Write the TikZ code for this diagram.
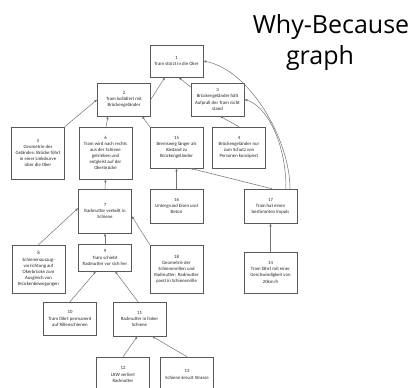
\documentclass[tikz,border=0pt]{standalone}
\usepackage{fontspec}
\setmainfont{Carlito}
\newfontfamily\titlefont{Open Sans}
\usetikzlibrary{arrows.meta}

\begin{document}
\begin{tikzpicture}[
    x=1pt,
    y=-1pt,
    >={Latex[length=3pt,width=2.4pt]},
    box/.style={draw=black!65, line width=0.5pt, fill=white, align=center,
        minimum width=53, inner sep=1pt, text=black!85,
        font=\fontsize{4.8}{6.1}\selectfont},
    link/.style={->, draw=black!55, line width=0.5pt}
]

% Page
\fill[white] (0,0) rectangle (415,388);
\useasboundingbox (0,0) rectangle (415,388);

% Title
\node[align=center, inner sep=0pt, font=\titlefont\fontsize{25}{31}\selectfont]
    (title) at (331,43) {Why-Because\\graph\hspace*{22pt}};

% Top levels
\node[box, minimum height=32] (n1) at (176.5,61) {1\\Tram stürzt in die Oker};
\node[box, minimum height=33] (n2) at (124,99.5) {2\\Tram kollidiert mit\\Brückengeländer};
\node[box, minimum height=33] (n3) at (217.5,99.5) {3\\Brückengeländer hält\\Aufprall der Tram nicht\\stand};

\node[box, minimum height=52] (n5) at (38,153) {5\\Geometrie des\\Geländes: Brücke führt\\in einer Linkskurve\\über die Oker};
\node[box, minimum height=52] (n6) at (105.5,153) {6\\Tram wird nach rechts\\aus der Schiene\\getrieben und\\entgleist auf der\\Okerbrücke};
\node[box, minimum height=41] (n15) at (176.5,147.5) {15\\Bremsweg länger als\\Abstand zu\\Brückengeländer};
\node[box, minimum height=41] (n4) at (239,147.5) {4\\Brückengeländer nur\\zum Schutz von\\Personen konzipiert};

\node[box, minimum height=44] (n7) at (105,211) {7\\Radmutter verkeilt in\\Schiene};
\node[box, minimum height=34] (n16) at (176.5,206) {16\\Untergrund Eisen und\\Beton};
\node[box, minimum height=34] (n17) at (270.5,206) {17\\Tram hat einen\\bestimmten Impuls};

% Lower levels
\node[box, minimum height=48] (n8) at (38.5,269) {8\\Schienenauszug-\\vorrichtung auf\\Okerbrücke zum\\Ausgleich von\\Brückenbewegungen};
\node[box, minimum height=27] (n9) at (105,257.5) {9\\Tram schiebt\\Radmutter vor sich her};
\node[box, minimum height=48] (n18) at (176.5,269) {18\\Geometrie der\\Schienenrillen und\\Radmutter: Radmutter\\passt in Schienenrille};
\node[box, minimum height=41] (n14) at (270.5,272.5) {14\\Tram fährt mit einer\\Geschwindigkeit von\\20km/h};

\node[box, minimum height=33] (n10) at (70,318.5) {10\\Tram fährt permanent\\auf Rillenschienen};
\node[box, minimum height=34] (n11) at (139.5,319) {11\\Radmutter in linker\\Schiene};
\node[box, minimum height=35] (n12) at (123,374.5) {12\\LKW verliert\\Radmutter};
\node[box, minimum height=35] (n13) at (187,374.5) {13\\Schiene kreuzt Strasse};

% Causal links
\draw[link] (n2.east) -- ([xshift=-11.5]n1.south);
\draw[link] ([yshift=12.5]n3.west) -- ([xshift=2]n1.south);
\draw[link] (n5.north east) -- (n2.west);
\draw[link] ([xshift=0.5]n6.north) -- ([xshift=-16]n2.south);
\draw[link] (n15.north west) -- ([xshift=18]n2.south);
\draw[link] (n4.north) -- ([xshift=2.5]n3.south);
\draw[link] ([xshift=1.5]n17.north) -- ([xshift=13.5]n15.south);
\draw[link] (n16.north) -- (n15.south);
\draw[link] ([xshift=19.5]n17.north)
    .. controls (290,140) and (250,70) .. (n1.east);
\draw[link] ([xshift=15.5]n17.north)
    .. controls (286,140) and (265,105) .. (n3.east);
\draw[link] (n14.north) -- (n17.south);

\draw[link] (n7.north) -- (n6.south);
\draw[link] (n9.north) -- (n7.south);
\draw[link] (n8.north) -- ([yshift=3]n7.west);
\draw[link] (n18.north west) -- ([yshift=-5]n7.east);
\draw[link] (n10.north) -- ([xshift=-9]n9.south);
\draw[link] ([xshift=-1.5]n11.north) -- ([xshift=10]n9.south);
\draw[link] (n12.north) -- ([xshift=-2]n11.south);
\draw[link] (n13.north) -- ([xshift=12.5]n11.south);

\end{tikzpicture}
\end{document}
